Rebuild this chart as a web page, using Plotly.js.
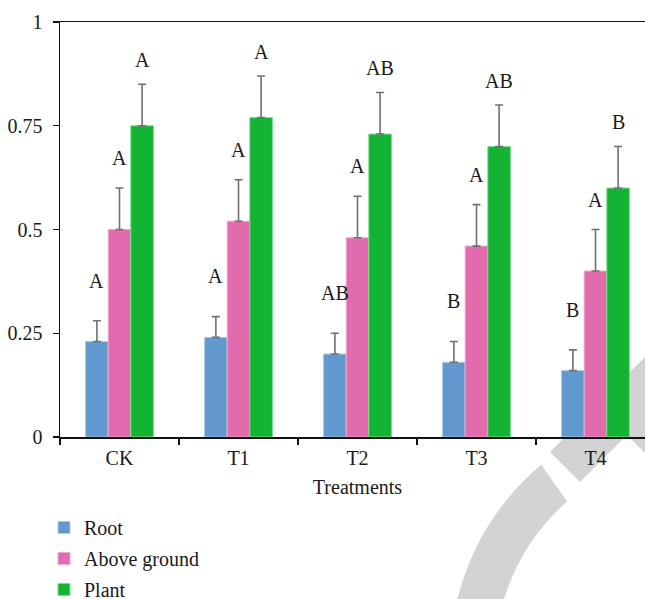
<!DOCTYPE html>
<html>
<head>
<meta charset="utf-8">
<script src="https://cdn.plot.ly/plotly-3.0.1.min.js"></script>
<style>
html, body { margin:0; padding:0; overflow:hidden; background:#fff; }
#wrap { position:relative; width:645px; height:599px; overflow:hidden; }
#chart { position:absolute; left:0; top:0; }
</style>
</head>
<body>
<div id="wrap"><div id="chart"></div></div>
<script>
var categories = ['CK', 'T1', 'T2', 'T3', 'T4'];
var seriesNames = ['Root', 'Above ground', 'Plant'];
var root  = [0.23, 0.24, 0.20, 0.18, 0.16];
var above = [0.50, 0.52, 0.48, 0.46, 0.40];
var plant = [0.75, 0.77, 0.73, 0.70, 0.60];
var rootErr  = [0.05, 0.05, 0.05, 0.05, 0.05];
var aboveErr = [0.10, 0.10, 0.10, 0.10, 0.10];
var plantErr = [0.10, 0.10, 0.10, 0.10, 0.10];
var rootLetters  = ['A', 'A', 'AB', 'B', 'B'];
var aboveLetters = ['A', 'A', 'A', 'A', 'A'];
var plantLetters = ['A', 'A', 'AB', 'AB', 'B'];
var yTicks = [0, 0.25, 0.5, 0.75, 1];

var colors = ['#6199cf', '#e26bad', '#13b334'];
var lineColors = ['#a9c8e8', '#f0a8d0', '#7fdc90'];
var values = [root, above, plant];
var errs = [rootErr, aboveErr, plantErr];
var letters = [rootLetters, aboveLetters, plantLetters];
var labelGap = [0.097, 0.072, 0.058];
var barOffsets = [-0.19, 0, 0.19];

var W = 655, H = 599, ML = 60, MT = 22, MB = 162;
var PW = W - ML, PH = H - MT - MB;
// decorative watermark outline (pixel coordinates -> paper coordinates)
function P(px, py) { return ((px - ML) / PW).toFixed(4) + ',' + ((H - MB - py) / PH).toFixed(4); }
var arcPath = 'M' + P(541.1, 464.7) + ' C' + P(483.4, 513.2) + ' ' + P(450, 584.6) + ' ' + P(450, 660) +
  ' L' + P(495, 660) + ' C' + P(495, 599.2) + ' ' + P(521.3, 541.4) + ' ' + P(567.2, 501.5) + ' Z';
var chevPath = 'M' + P(550, 452) + ' L' + P(580, 482) + ' L' + P(627, 435) + ' L' + P(645, 453) +
  ' L' + P(665, 473) + ' L' + P(665, 337) + ' Z';

var font = 'Liberation Serif, Times New Roman, serif';
var traces = [];
var annotations = [];
for (var s = 0; s < 3; s++) {
  traces.push({
    type: 'bar',
    name: seriesNames[s],
    x: categories,
    y: values[s],
    legendgroup: 'g' + s,
    marker: { color: colors[s], line: { color: lineColors[s], width: 1 } },
    error_y: {
      type: 'data', symmetric: false,
      array: errs[s], arrayminus: errs[s].map(function () { return 0; }),
      color: '#707070', thickness: 1.6, width: 4
    },
    hoverinfo: 'none'
  });
  for (var i = 0; i < categories.length; i++) {
    annotations.push({
      x: i + barOffsets[s], xref: 'x',
      y: values[s][i] + errs[s][i] + labelGap[s], yref: 'y',
      text: letters[s][i], showarrow: false,
      xanchor: 'center', yanchor: 'middle',
      font: { family: font, size: 20, color: '#1a1a1a' }
    });
  }
}

var layout = {
  width: W, height: H,
  margin: { l: ML, r: 0, t: MT, b: MB, autoexpand: false },
  paper_bgcolor: '#ffffff',
  plot_bgcolor: 'rgba(0,0,0,0)',
  barmode: 'group',
  bargap: 0.43,
  bargroupgap: 0,
  font: { family: font, size: 20, color: '#1a1a1a' },
  xaxis: {
    type: 'category',
    range: [-0.5, 4.5],
    showline: true, linecolor: '#111', linewidth: 1.5, mirror: true,
    ticks: 'outside', tickson: 'boundaries', ticklen: 6, tickcolor: '#111', tickwidth: 1.2,
    showgrid: false, zeroline: false,
    ticklabelstandoff: 2,
    tickfont: { family: font, size: 20, color: '#1a1a1a' },
    title: { text: 'Treatments', font: { family: font, size: 20, color: '#1a1a1a' }, standoff: 12 }
  },
  yaxis: {
    range: [0, 1],
    tickvals: yTicks,
    showline: true, linecolor: '#111', linewidth: 1.5,
    ticks: 'outside', ticklen: 6, tickcolor: '#111', tickwidth: 1.2,
    showgrid: false, zeroline: false,
    ticklabelstandoff: 6,
    tickfont: { family: font, size: 20, color: '#1a1a1a' }
  },
  showlegend: true,
  legend: {
    orientation: 'v',
    xref: 'container', yref: 'container',
    x: 44 / W, xanchor: 'left',
    y: 1 - 508 / H, yanchor: 'top',
    tracegroupgap: 2,
    itemwidth: 30,
    bgcolor: 'rgba(0,0,0,0)',
    font: { family: font, size: 20, color: '#1a1a1a' }
  },
  shapes: [
    { type: 'path', xref: 'paper', yref: 'paper', path: arcPath, fillcolor: '#d3d3d3', line: { width: 0 }, layer: 'below' },
    { type: 'path', xref: 'paper', yref: 'paper', path: chevPath, fillcolor: '#d3d3d3', line: { width: 0 }, layer: 'below' }
  ],
  annotations: annotations
};

Plotly.newPlot('chart', traces, layout, { displayModeBar: false, staticPlot: true });
</script>
</body>
</html>
